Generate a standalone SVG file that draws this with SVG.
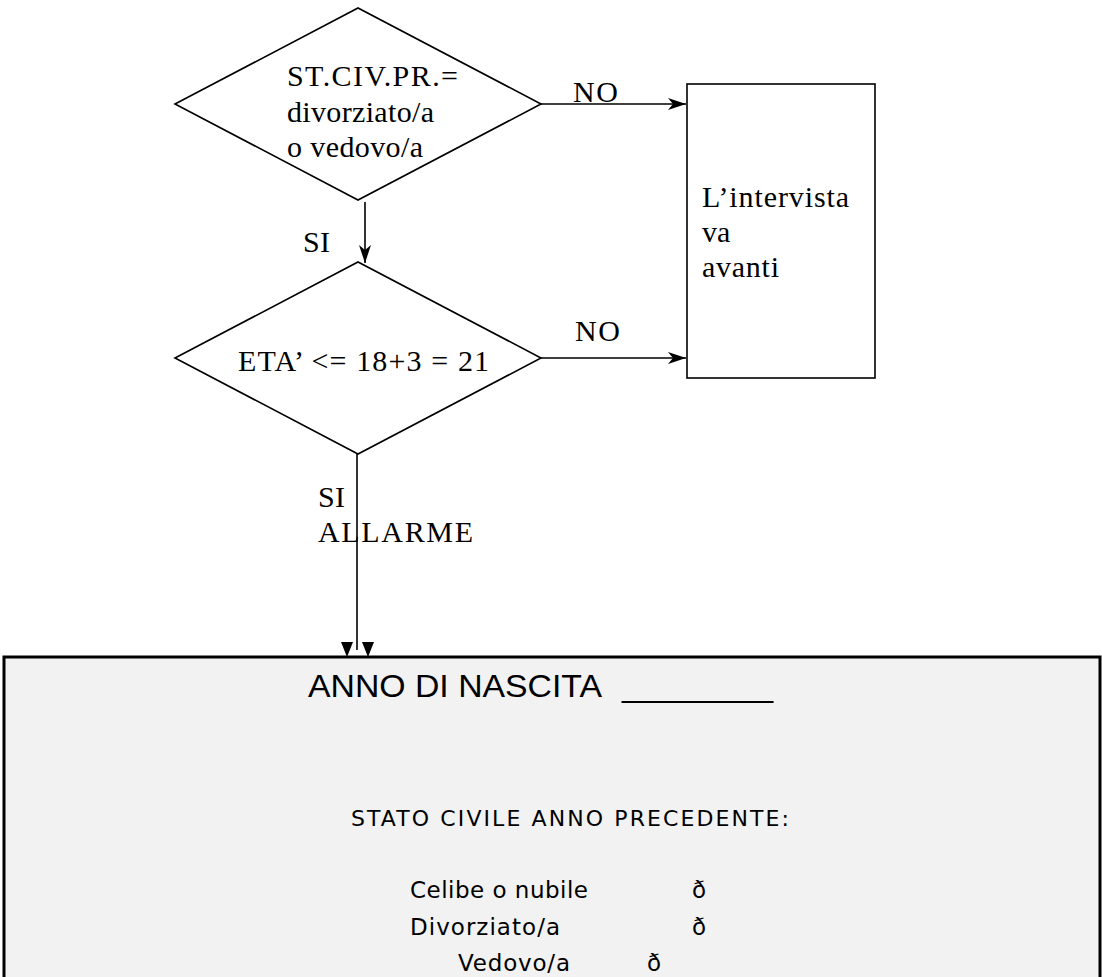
<svg xmlns="http://www.w3.org/2000/svg" width="1102" height="977" viewBox="0 0 1102 977">
<style>
.shape{fill:#ffffff;stroke:#000000;stroke-width:1.6}
.conn{fill:none;stroke:#000000;stroke-width:1.6}
.serif{font-family:"Liberation Serif","Times New Roman",serif;font-size:30px;fill:#000000}
.sans{font-family:"DejaVu Sans","Liberation Sans",sans-serif;fill:#000000}
.head{font-family:"Liberation Sans",Arial,sans-serif;fill:#000000}
</style>
<defs>
<marker id="arr" viewBox="0 0 18 12" refX="18" refY="6" markerWidth="18" markerHeight="12" markerUnits="userSpaceOnUse" orient="auto">
<path d="M0,0 L18,6 L0,12 L5,6 Z" fill="#000000"/>
</marker>
</defs>
<rect width="1102" height="977" fill="#ffffff"/>

<g id="connectors">
<line class="conn" x1="541" y1="104" x2="686" y2="104" marker-end="url(#arr)"/>
<line class="conn" x1="541" y1="358" x2="686" y2="358" marker-end="url(#arr)"/>
<line class="conn" x1="365" y1="202" x2="365" y2="263" marker-end="url(#arr)"/>
<line class="conn" x1="357" y1="454" x2="357" y2="650"/>
<path d="M341,642 L353,642 L347,657 Z" fill="#000000"/>
<path d="M362,642 L374,642 L368,657 Z" fill="#000000"/>
<text class="serif" x="573" y="102" textLength="45" lengthAdjust="spacing">NO</text>
<text class="serif" x="575" y="341" textLength="45" lengthAdjust="spacing">NO</text>
<text class="serif" x="303" y="252" textLength="27" lengthAdjust="spacing">SI</text>
<text class="serif" x="318" y="507" textLength="27" lengthAdjust="spacing">SI</text>
<text class="serif" x="318" y="542" textLength="155" lengthAdjust="spacing">ALLARME</text>
</g>

<g id="node-stciv">
<polygon class="shape" points="175,104 358,8 541,104 358,200"/>
<text class="serif" x="287" y="86" textLength="171" lengthAdjust="spacing">ST.CIV.PR.=</text>
<text class="serif" x="287" y="122" textLength="147" lengthAdjust="spacing">divorziato/a</text>
<text class="serif" x="287" y="157" textLength="136" lengthAdjust="spacing">o vedovo/a</text>
</g>

<g id="node-eta">
<polygon class="shape" points="175,358 358,262 541,358 358,454"/>
<text class="serif" x="238" y="371" textLength="251" lengthAdjust="spacing">ETA’ &lt;= 18+3 = 21</text>
</g>

<g id="node-intervista">
<rect class="shape" x="687" y="84" width="188" height="294"/>
<text class="serif" x="702" y="207" textLength="147" lengthAdjust="spacing">L’intervista</text>
<text class="serif" x="702" y="242">va</text>
<text class="serif" x="702" y="277" textLength="77" lengthAdjust="spacing">avanti</text>
</g>

<g id="node-form">
<rect x="4" y="657" width="1096" height="340" fill="#f2f2f2" stroke="#000000" stroke-width="3"/>
<text class="head" x="308" y="697" font-size="32" textLength="294" lengthAdjust="spacingAndGlyphs">ANNO DI NASCITA</text>
<text class="head" x="622" y="697" font-size="32" textLength="151" lengthAdjust="spacingAndGlyphs">________</text>
<text class="sans" x="351" y="826" font-size="22" textLength="438" lengthAdjust="spacing">STATO CIVILE ANNO PRECEDENTE:</text>
<text class="sans" x="410" y="898" font-size="23" textLength="178" lengthAdjust="spacing">Celibe o nubile</text>
<text class="sans" x="692" y="898" font-size="23">ð</text>
<text class="sans" x="410" y="935" font-size="23" textLength="150" lengthAdjust="spacing">Divorziato/a</text>
<text class="sans" x="692" y="935" font-size="23">ð</text>
<text class="sans" x="458" y="971" font-size="23" textLength="112" lengthAdjust="spacing">Vedovo/a</text>
<text class="sans" x="647" y="971" font-size="23">ð</text>
</g>
</svg>
